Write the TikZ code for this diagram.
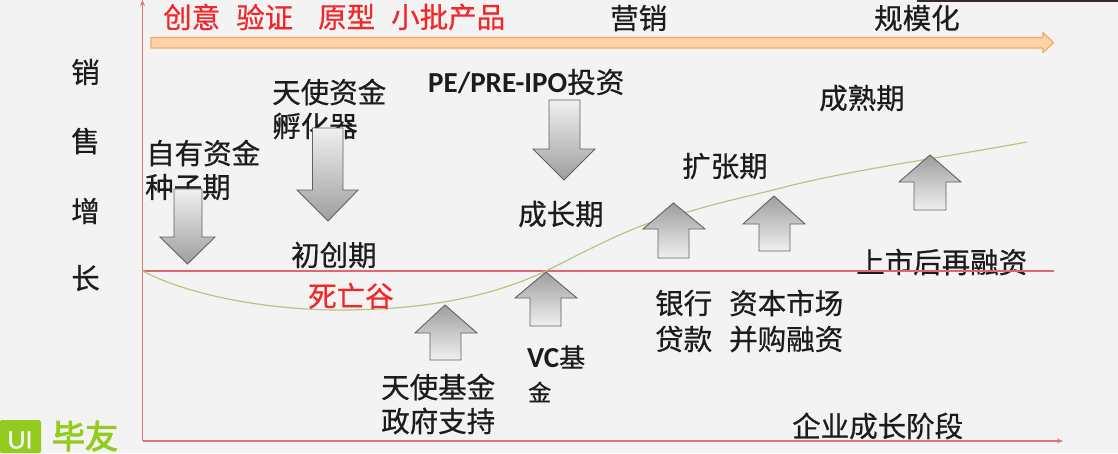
\documentclass[tikz,border=0pt]{standalone}
\usepackage{fontspec}
\usetikzlibrary{arrows.meta}
\setmainfont{Noto Sans CJK SC}[FakeBold=0.6]
\newfontfamily\brandfont{Noto Sans CJK SC}[FakeBold=3]
\newfontfamily\latinb{Carlito}[UprightFont=*,BoldFont=* Bold]
\newfontfamily\markfont{Liberation Sans}[FakeBold=1.5]
\definecolor{paper}{HTML}{F3F3F4}
\definecolor{axisred}{HTML}{D9787A}
\definecolor{redline}{HTML}{DC6A6C}
\definecolor{curvegreen}{HTML}{B4C684}
\definecolor{bandfill}{HTML}{FDD3A8}
\definecolor{banddraw}{HTML}{F5A860}
\definecolor{ink}{HTML}{1C1C1C}
\definecolor{hot}{HTML}{F0282A}
\definecolor{logogreen}{HTML}{93CB1E}
\definecolor{topstrip}{HTML}{3A2A28}
\tikzset{
  x=1pt,y=-1pt,
  label/.style={font=\fontsize{28.5}{34}\selectfont,text=ink,inner sep=0pt,anchor=west},
  hotlabel/.style={label,text=hot},
  axisline/.style={axisred,line width=1.1pt},
  flowdown/.style={draw=black!62,line width=.9pt,top color=black!6,bottom color=black!38},
  flowup/.style={draw=black!62,line width=.9pt,top color=black!38,bottom color=black!6},
}
% block arrow: style, shaft left/right, head left/right, butt y, shoulder y, tip x; tip y in \tipy
\newcommand{\tipy}{0}
\newcommand{\blockarrow}[9][]{%
  \shade[#2,#1] (#3,#7) -- (#4,#7) -- (#4,#8) -- (#6,#8) -- (#9,\tipy) -- (#5,#8) -- (#3,#8) -- cycle;}
\begin{document}
\begin{tikzpicture}
\useasboundingbox (0,0) rectangle (1118,453);
\fill[paper] (0,0) rectangle (1118,453);
\fill[topstrip] (917,0) rectangle (1118,2);

% stage labels above the timeline
\node[hotlabel] (idea) at (163,17) {创意};
\node[hotlabel] (verify) at (236,17) {验证};
\node[hotlabel] (proto) at (318,17) {原型};
\node[hotlabel] (batch) at (391,17) {小批产品};
\node[label] (market) at (610,18) {营销};
\node[label] (scale) at (874,18) {规模化};

% vertical axis title
\node[label,anchor=center] (v1) at (85.5,72) {销};
\node[label,anchor=center] (v2) at (85.5,141) {售};
\node[label,anchor=center] (v3) at (85.5,211) {增};
\node[label,anchor=center] (v4) at (85.5,278) {长};

% funding sources and phases
\node[label] (angelcap) at (272,92) {天使资金};
\node[label] (incub) at (272,126) {孵化器};
\node[label] (own) at (146,153) {自有资金};
\node[label] (seed) at (145,187) {种子期};
\node[label] (pe) at (428,82) {{\latinb\bfseries\fontsize{29}{34}\selectfont PE/PRE-IPO}投资};
\node[label] (growth) at (518,214) {成长期};
\node[label] (expand) at (682,166) {扩张期};
\node[label] (mature) at (819,98) {成熟期};
\node[label] (startup) at (291,255) {初创期};
\node[label] (angelfund) at (381,387) {天使基金};
\node[label] (gov) at (381,421) {政府支持};
\node[label] (vc) at (527,357) {{\latinb\bfseries\fontsize{29}{34}\selectfont VC}\fontsize{26}{28}\selectfont 基};
\node[label,font=\fontsize{23}{28}\selectfont] (vc2) at (528,392) {金};
\node[label] (bank) at (655,303) {银行};
\node[label] (loan) at (655,339) {贷款};
\node[label] (capital) at (729,303) {资本市场};
\node[label] (ma) at (729,339) {并购融资};
\node[label] (ipo) at (856,262) {上市后再融资};
\node[label] (stages) at (792,426) {企业成长阶段};

% axes and the break-even line
\coordinate (origin) at (142.5,441);
\coordinate (ytop) at (142.5,0);
\coordinate (xend) at (1063,441);
\coordinate (zero) at (142.5,271);
\coordinate (zeroend) at (1054,271);
\draw[axisline,-{Stealth[length=6pt,width=5pt]}] (origin) -- (ytop);
\draw[axisline,-{Stealth[length=6pt,width=5pt]}] (origin) -- (xend);
\draw[redline,line width=1.2pt] (zero) -- (zeroend);

% growth curve
\coordinate (curveend) at (1027,142);
\draw[curvegreen,line width=1.2pt] (zero)
  .. controls (190,296) and (270,310) .. (340,310)
  .. controls (420,310) and (490,298) .. (548,270)
  .. controls (600,244) and (640,222) .. (688,212)
  .. controls (720,202) and (750,196) .. (781,188)
  .. controls (850,170) and (940,158) .. (curveend);

\node[hotlabel] (valley) at (308,296) {死亡谷};

% timeline band
\coordinate (bandtip) at (1053.5,42.7);
\filldraw[fill=bandfill,draw=banddraw,line width=1.2pt,line join=round]
  (151,37.5) -- (1043,37.5) -- (1043,32.5) -- (bandtip) -- (1043,52.5) -- (1043,48) -- (151,48) -- cycle;

% capital flowing in: down arrows from above, up arrows from below
\renewcommand{\tipy}{264}\blockarrow{flowdown}{174}{202}{160}{215}{189}{237}{187.5}
\renewcommand{\tipy}{221}\blockarrow{flowdown}{312.5}{343}{297}{358}{128}{190}{328}
\renewcommand{\tipy}{180}\blockarrow{flowdown}{549}{580}{533}{595}{100}{149}{564}
\renewcommand{\tipy}{305}\blockarrow{flowup}{430}{461}{415}{477}{360}{333}{445}
\renewcommand{\tipy}{272}\blockarrow{flowup}{530}{561}{515}{577}{326}{298}{546}
\renewcommand{\tipy}{203}\blockarrow{flowup}{658}{689}{643}{705}{258}{229}{673.5}
\renewcommand{\tipy}{196}\blockarrow{flowup}{759}{790}{743}{805}{251}{224}{774}
\renewcommand{\tipy}{155}\blockarrow{flowup}{914}{946}{899}{961}{210}{182}{930}

% brand mark
\fill[logogreen,rounded corners=1.5pt] (0,420) rectangle (41,453);
\node[font=\markfont\fontsize{25}{26}\selectfont,text=paper,inner sep=0pt] (mark) at (20,440) {UI};
\node[font=\brandfont\fontsize{33}{36}\selectfont,text=logogreen,inner sep=0pt] (brand) at (85,436) {毕友};
\end{tikzpicture}
\end{document}
